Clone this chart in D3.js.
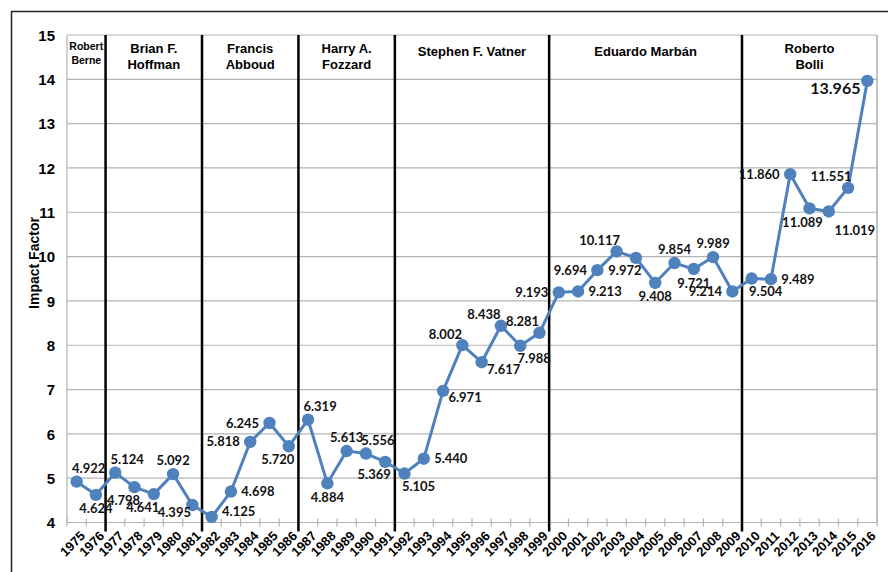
<!DOCTYPE html>
<html lang="en">
<head>
<meta charset="utf-8">
<title>Impact Factor by editor</title>
<script src="https://cdnjs.cloudflare.com/ajax/libs/d3/7.4.4/d3.min.js"></script>
<style>
  body { margin: 0; background: #fff; }
  svg { display: block; }
  .tick text { font-family: "Liberation Sans", Arial, sans-serif; font-weight: bold; fill: #000; }
</style>
</head>
<body>
<div id="chart"></div>
<script>
// ---- data ----
var years = [1975,1976,1977,1978,1979,1980,1981,1982,1983,1984,1985,1986,1987,1988,1989,1990,1991,1992,1993,1994,1995,
             1996,1997,1998,1999,2000,2001,2002,2003,2004,2005,2006,2007,2008,2009,2010,2011,2012,2013,2014,2015,2016];
var impact = [4.922,4.624,5.124,4.798,4.641,5.092,4.395,4.125,4.698,5.818,6.245,5.720,6.319,4.884,5.613,5.556,5.369,5.105,5.440,6.971,8.002,
              7.617,8.438,7.988,8.281,9.193,9.213,9.694,10.117,9.972,9.408,9.854,9.721,9.989,9.214,9.504,9.489,11.860,11.089,11.019,11.551,13.965];
// where each value label sits around its point (compass direction)
var labelSide = ['ne','s','ne','sw','sw','n','wsw','ene','e','w','w','sw','ne','s','n','ne','sw','se','e','ese','nw',
                 'ese','nw','se','nw','w','e','w','nw','sw','s','n','s','n','w','se','e','w','ssw','sse','nw','w'];
var yTicks = [4,5,6,7,8,9,10,11,12,13,14,15];

// editors: name lines and first year of each tenure
var editorNames = [["Robert","Berne"],["Brian F.","Hoffman"],["Francis","Abboud"],["Harry A.","Fozzard"],
                   ["Stephen F. Vatner"],["Eduardo Marbán"],["Roberto","Bolli"]];
var editorStart = [1975,1977,1982,1987,1992,2000,2010];

// ---- layout ----
var W = 888, H = 572;
var margin = {top: 35, right: 11, bottom: 49.5, left: 67};
var width = W - margin.left - margin.right,
    height = H - margin.top - margin.bottom;
var blue = "#4f81bd";

var svg = d3.select("#chart").append("svg")
    .attr("width", W).attr("height", H);

// outer frame (open on right and bottom, as in the cropped original)
svg.append("path")
    .attr("d", "M11.5," + H + "V11.5H" + W)
    .attr("fill", "none").attr("stroke", "#222").attr("stroke-width", 1.5);

var g = svg.append("g").attr("transform", "translate(" + margin.left + "," + margin.top + ")");

var x = d3.scaleBand().domain(years).range([0, width]).padding(0);
var y = d3.scaleLinear().domain([4, 15]).range([height, 0]);
var cx = function (d) { return x(d) + x.bandwidth() / 2; };

// horizontal gridlines
g.append("g")
  .selectAll("line").data(yTicks).enter().append("line")
    .attr("x1", 0).attr("x2", width)
    .attr("y1", function (d) { return y(d); }).attr("y2", function (d) { return y(d); })
    .attr("stroke", "#b3b3b3").attr("stroke-width", 1.2);

// plot borders: left axis + right edge
g.append("line").attr("x1", 0).attr("x2", 0).attr("y1", 0).attr("y2", height)
    .attr("stroke", "#b3b3b3").attr("stroke-width", 1.2);
g.append("line").attr("x1", width).attr("x2", width).attr("y1", 0).attr("y2", height)
    .attr("stroke", "#999").attr("stroke-width", 1.2);

// y axis labels
var yAxis = g.append("g")
    .call(d3.axisLeft(y).tickValues(yTicks).tickSize(0).tickPadding(12));
yAxis.select(".domain").remove();
yAxis.selectAll("text").attr("font-size", 15).attr("dy", "0.35em");

// x axis: line, cross ticks at category boundaries, rotated labels
var bounds = years.map(function (d) { return x(d); }).concat([width]);
g.append("line").attr("x1", 0).attr("x2", width).attr("y1", height).attr("y2", height)
    .attr("stroke", "#b3b3b3").attr("stroke-width", 1.2);
g.append("g").selectAll("line").data(bounds).enter().append("line")
    .attr("x1", function (d) { return d; }).attr("x2", function (d) { return d; })
    .attr("y1", height - 4).attr("y2", height + 4)
    .attr("stroke", "#b3b3b3").attr("stroke-width", 1.2);

g.append("g").selectAll("text").data(years).enter().append("text")
    .attr("transform", function (d) { return "translate(" + (cx(d) + 6) + "," + (height + 11) + ") rotate(-45)"; })
    .attr("text-anchor", "end")
    .attr("dy", "0.35em")
    .attr("font-family", "Liberation Sans, Arial, sans-serif")
    .attr("font-weight", "bold").attr("font-size", 13)
    .text(function (d) { return d; });

// y axis title
svg.append("text")
    .attr("transform", "translate(34,263) rotate(-90)")
    .attr("text-anchor", "middle").attr("dy", "0.35em")
    .attr("font-family", "Liberation Sans, Arial, sans-serif")
    .attr("font-weight", "bold").attr("font-size", 14)
    .text("Impact Factor");

// editor separators
g.append("g").selectAll("line").data(editorStart.slice(1)).enter().append("line")
    .attr("x1", function (d) { return x(d); }).attr("x2", function (d) { return x(d); })
    .attr("y1", 0).attr("y2", height + 9)
    .attr("stroke", "#000").attr("stroke-width", 2.5);

// editor names, centred within each tenure
editorNames.forEach(function (lines, i) {
  var x0 = x(editorStart[i]);
  var x1 = i + 1 < editorStart.length ? x(editorStart[i + 1]) : width;
  var small = i === 0;
  var fs = small ? 10.5 : 13;
  var lh = small ? 14 : 16;
  var top = lines.length === 1 ? 16 : (small ? 11 : 13);
  var t = g.append("text")
      .attr("x", (x0 + x1) / 2)
      .attr("text-anchor", "middle")
      .attr("font-family", "Liberation Sans, Arial, sans-serif")
      .attr("font-weight", "bold").attr("font-size", fs);
  lines.forEach(function (s, j) {
    t.append("tspan").attr("x", (x0 + x1) / 2).attr("y", top + j * lh).attr("dy", "0.35em").text(s);
  });
});

// series
var pts = years.map(function (d, i) { return {year: d, v: impact[i], side: labelSide[i]}; });
g.append("path").datum(pts)
    .attr("fill", "none").attr("stroke", blue).attr("stroke-width", 3)
    .attr("stroke-linejoin", "round")
    .attr("d", d3.line().x(function (d) { return cx(d.year); }).y(function (d) { return y(d.v); }));

g.append("g").selectAll("circle").data(pts).enter().append("circle")
    .attr("cx", function (d) { return cx(d.year); })
    .attr("cy", function (d) { return y(d.v); })
    .attr("r", 6.2)
    .attr("fill", blue);

// value labels
var off = {
  n: [0, -14], s: [0, 14], e: [27, 0], w: [-27, 0],
  ne: [12, -13], nw: [-17, -11], se: [14, 13], sw: [-11, 13],
  ene: [27, -6], ese: [22, 7], wsw: [-18, 7], ssw: [-7, 14], sse: [26, 19]
};
g.append("g").selectAll("text").data(pts).enter().append("text")
    .attr("x", function (d, i) {
      var o = off[d.side][0];
      if (i === pts.length - 1) o = -32;
      else if (d.v >= 10 && d.side === "w") o = -31;
      return cx(d.year) + o;
    })
    .attr("y", function (d, i) { return y(d.v) + (i === pts.length - 1 ? 8 : off[d.side][1]); })
    .attr("text-anchor", "middle").attr("dy", "0.35em")
    .attr("font-family", "Lato, 'Open Sans', sans-serif")
    .attr("font-weight", "bold")
    .attr("font-size", function (d, i) { return i === pts.length - 1 ? 16 : 13; })
    .attr("fill", "#111")
    .text(function (d) { return d.v.toFixed(3); });
</script>
</body>
</html>
